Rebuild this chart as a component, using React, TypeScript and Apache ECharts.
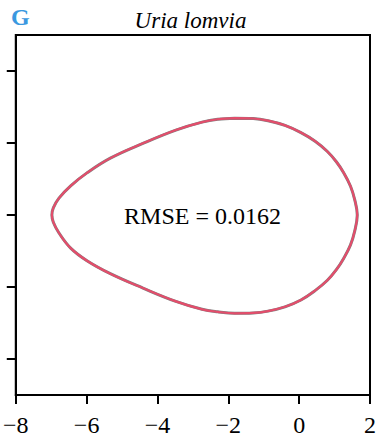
import React, { useEffect, useRef } from "react";
import * as echarts from "echarts";

// Contour points (axis units), going clockwise from the top of the outline
const outlineX = [-1.82, -1.3, -0.88, -0.4, 0.05, 0.45, 0.79, 1.05, 1.26, 1.45, 1.57, 1.64, 1.57, 1.45, 1.26, 1.05, 0.79, 0.45, 0.05, -0.4, -0.88, -1.3, -1.82, -2.3, -2.74, -3.48, -4.41, -5.33, -5.99, -6.45, -6.78, -6.94, -6.98, -6.94, -6.78, -6.45, -5.99, -5.33, -4.41, -3.48, -2.74, -2.3, -1.82];
const outlineY = [2.69, 2.68, 2.62, 2.49, 2.29, 2.05, 1.77, 1.48, 1.17, 0.8, 0.42, 0.0, -0.44, -0.83, -1.2, -1.52, -1.82, -2.1, -2.36, -2.55, -2.67, -2.72, -2.73, -2.69, -2.62, -2.4, -2.03, -1.63, -1.27, -0.92, -0.5, -0.2, 0.0, 0.2, 0.47, 0.81, 1.17, 1.58, 1.99, 2.36, 2.58, 2.66, 2.69];
const fitX = outlineX;
const fitY = outlineY;

const xTicks = [-8, -6, -4, -2, 0, 2];
const yTicks = [-4, -2, 0, 2, 4];

const panelLetter = "G";
const title = "Uria lomvia";
const rmseText = "RMSE = 0.0162";

export default function App() {
  const ref = useRef<HTMLDivElement>(null);
  useEffect(() => {
    if (!ref.current) return;
    const chart = echarts.init(ref.current, null, { renderer: "svg" });
    const serif = "Liberation Serif, Times New Roman, serif";
    chart.setOption({
      animation: false,
      backgroundColor: "#fff",
      grid: {
        left: 11,
        right: 13,
        top: 35,
        bottom: 46,
        show: true,
        borderColor: "#000",
        borderWidth: 2,
      },
      xAxis: {
        type: "value",
        min: -8,
        max: 2,
        interval: 2,
        axisLine: { show: true, onZero: false, lineStyle: { color: "#000", width: 2 } },
        axisTick: { show: true, length: 9, lineStyle: { color: "#000", width: 2 } },
        axisLabel: {
          fontFamily: serif,
          fontSize: 24,
          color: "#000",
          margin: 18,
          showMinLabel: true,
          showMaxLabel: true,
          formatter: (v: number) => (xTicks.includes(v) ? String(v).replace("-", "\u2212") : ""),
        },
        splitLine: { show: false },
      },
      yAxis: {
        type: "value",
        min: -5,
        max: 5,
        axisLine: { show: true, onZero: false, lineStyle: { color: "#000", width: 2 } },
        axisTick: {
          show: true,
          length: 9,
          customValues: yTicks,
          lineStyle: { color: "#000", width: 2 },
        },
        axisLabel: { show: false },
        splitLine: { show: false },
      },
      graphic: [
        {
          type: "text",
          x: 11,
          y: 5,
          style: { text: panelLetter, fontFamily: serif, fontWeight: "bold", fontSize: 24, fill: "#3a98e0", textVerticalAlign: "top" },
        },
        {
          type: "text",
          x: 190.5,
          y: 20,
          style: {
            text: title,
            fontFamily: serif,
            fontStyle: "italic",
            fontSize: 23,
            fill: "#000",
            textAlign: "center",
            textVerticalAlign: "middle",
          },
        },
        {
          type: "text",
          x: 202.5,
          y: 216,
          style: {
            text: rmseText,
            fontFamily: serif,
            fontSize: 24,
            fill: "#000",
            textAlign: "center",
            textVerticalAlign: "middle",
          },
        },
      ],
      series: [
        {
          type: "line",
          data: outlineX.map((x, i) => [x, outlineY[i]]),
          showSymbol: false,
          smooth: 0.4,
          lineStyle: { color: "#808080", width: 3 },
          z: 2,
        },
        {
          type: "line",
          data: fitX.map((x, i) => [x, fitY[i]]),
          showSymbol: false,
          smooth: 0.4,
          lineStyle: { color: "#e34d6b", width: 2.2 },
          z: 3,
        },
      ],
    });
    return () => chart.dispose();
  }, []);
  return (
    <div
      ref={ref}
      style={{ position: "fixed", left: 0, top: 0, width: 383, height: 441 }}
    />
  );
}
